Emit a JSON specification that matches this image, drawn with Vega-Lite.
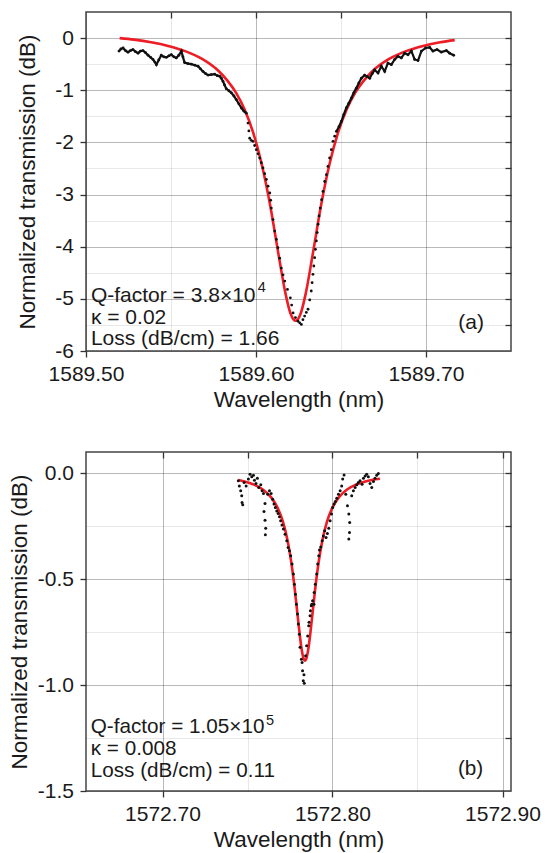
{
  "$schema": "https://vega.github.io/schema/vega-lite/v6.json",
  "padding": {"left": 7, "top": 10, "right": 5, "bottom": 0},
  "background": "white",
  "bounds": "flush",
  "spacing": 101,
  "config": {
    "font": "Liberation Sans",
    "view": {"stroke": "#444", "strokeWidth": 1.5},
    "axis": {
      "labelFont": "Liberation Sans",
      "labelFontSize": 21,
      "labelColor": "#1a1a1a",
      "labelFlush": false,
      "labelOverlap": false,
      "titleFont": "Liberation Sans",
      "titleFontSize": 22.5,
      "titleFontWeight": "normal",
      "titleColor": "#1a1a1a",
      "tickColor": "#333",
      "tickWidth": 1.3,
      "domain": false,
      "gridColor": "#000",
      "gridWidth": 1
    },
    "text": {"font": "Liberation Sans"}
  },
  "datasets": {
    "fitA": [
      {"wl": 1589.5198, "dB": 0.0}, {"wl": 1589.5283, "dB": -0.03}, {"wl": 1589.5383, "dB": -0.08},
      {"wl": 1589.5483, "dB": -0.15}, {"wl": 1589.5583, "dB": -0.25}, {"wl": 1589.5683, "dB": -0.40},
      {"wl": 1589.5783, "dB": -0.64}, {"wl": 1589.5833, "dB": -0.82}, {"wl": 1589.5883, "dB": -1.05},
      {"wl": 1589.5933, "dB": -1.37}, {"wl": 1589.5983, "dB": -1.81}, {"wl": 1589.6033, "dB": -2.41},
      {"wl": 1589.6083, "dB": -3.20}, {"wl": 1589.6133, "dB": -4.16}, {"wl": 1589.6173, "dB": -4.89},
      {"wl": 1589.6203, "dB": -5.28}, {"wl": 1589.6233, "dB": -5.42}, {"wl": 1589.6263, "dB": -5.28},
      {"wl": 1589.6293, "dB": -4.89}, {"wl": 1589.6333, "dB": -4.16}, {"wl": 1589.6383, "dB": -3.20},
      {"wl": 1589.6433, "dB": -2.41}, {"wl": 1589.6483, "dB": -1.81}, {"wl": 1589.6533, "dB": -1.37},
      {"wl": 1589.6583, "dB": -1.05}, {"wl": 1589.6633, "dB": -0.82}, {"wl": 1589.6683, "dB": -0.64},
      {"wl": 1589.6783, "dB": -0.40}, {"wl": 1589.6883, "dB": -0.25}, {"wl": 1589.6983, "dB": -0.15},
      {"wl": 1589.7083, "dB": -0.08}, {"wl": 1589.7169, "dB": -0.04}
    ],
    "dataA": [
      {"wl": 1589.5194, "dB": -0.25}, {"wl": 1589.5205, "dB": -0.21}, {"wl": 1589.5218, "dB": -0.19},
      {"wl": 1589.5232, "dB": -0.24}, {"wl": 1589.5247, "dB": -0.27}, {"wl": 1589.5262, "dB": -0.24},
      {"wl": 1589.5276, "dB": -0.22}, {"wl": 1589.5291, "dB": -0.26}, {"wl": 1589.5306, "dB": -0.29},
      {"wl": 1589.5320, "dB": -0.25}, {"wl": 1589.5335, "dB": -0.24}, {"wl": 1589.5350, "dB": -0.28},
      {"wl": 1589.5365, "dB": -0.33}, {"wl": 1589.5380, "dB": -0.37}, {"wl": 1589.5394, "dB": -0.41},
      {"wl": 1589.5405, "dB": -0.46}, {"wl": 1589.5414, "dB": -0.51}, {"wl": 1589.5428, "dB": -0.42},
      {"wl": 1589.5443, "dB": -0.33}, {"wl": 1589.5458, "dB": -0.36}, {"wl": 1589.5473, "dB": -0.37},
      {"wl": 1589.5488, "dB": -0.34}, {"wl": 1589.5502, "dB": -0.32}, {"wl": 1589.5517, "dB": -0.36},
      {"wl": 1589.5531, "dB": -0.38}, {"wl": 1589.5546, "dB": -0.33}, {"wl": 1589.5561, "dB": -0.25},
      {"wl": 1589.5570, "dB": -0.36}, {"wl": 1589.5580, "dB": -0.47}, {"wl": 1589.5600, "dB": -0.49},
      {"wl": 1589.5620, "dB": -0.50}, {"wl": 1589.5640, "dB": -0.52}, {"wl": 1589.5659, "dB": -0.54},
      {"wl": 1589.5673, "dB": -0.59}, {"wl": 1589.5688, "dB": -0.64}, {"wl": 1589.5703, "dB": -0.68},
      {"wl": 1589.5718, "dB": -0.71}, {"wl": 1589.5737, "dB": -0.70}, {"wl": 1589.5757, "dB": -0.69},
      {"wl": 1589.5772, "dB": -0.72}, {"wl": 1589.5786, "dB": -0.73}, {"wl": 1589.5796, "dB": -0.77},
      {"wl": 1589.5806, "dB": -0.83}, {"wl": 1589.5815, "dB": -0.90}, {"wl": 1589.5825, "dB": -0.97},
      {"wl": 1589.5840, "dB": -1.01}, {"wl": 1589.5855, "dB": -1.05}, {"wl": 1589.5870, "dB": -1.11},
      {"wl": 1589.5884, "dB": -1.18}, {"wl": 1589.5899, "dB": -1.26}, {"wl": 1589.5914, "dB": -1.34},
      {"wl": 1589.5928, "dB": -1.40}, {"wl": 1589.5943, "dB": -1.44},
      {"wl": 1589.5953, "dB": -1.63}, {"wl": 1589.5958, "dB": -1.78}, {"wl": 1589.5963, "dB": -1.92},
      {"wl": 1589.5972, "dB": -1.96}, {"wl": 1589.5982, "dB": -1.98}, {"wl": 1589.5992, "dB": -2.06},
      {"wl": 1589.6002, "dB": -2.14}, {"wl": 1589.6012, "dB": -2.22}, {"wl": 1589.6022, "dB": -2.30},
      {"wl": 1589.6031, "dB": -2.39}, {"wl": 1589.6041, "dB": -2.49}, {"wl": 1589.6051, "dB": -2.60},
      {"wl": 1589.6061, "dB": -2.71}, {"wl": 1589.6071, "dB": -2.84}, {"wl": 1589.6081, "dB": -2.97},
      {"wl": 1589.6086, "dB": -3.11}, {"wl": 1589.6090, "dB": -3.26}, {"wl": 1589.6100, "dB": -3.48},
      {"wl": 1589.6110, "dB": -3.70}, {"wl": 1589.6120, "dB": -3.86}, {"wl": 1589.6129, "dB": -4.02},
      {"wl": 1589.6139, "dB": -4.22}, {"wl": 1589.6149, "dB": -4.41}, {"wl": 1589.6159, "dB": -4.54},
      {"wl": 1589.6169, "dB": -4.66}, {"wl": 1589.6185, "dB": -4.82}, {"wl": 1589.6202, "dB": -4.98},
      {"wl": 1589.6210, "dB": -5.12}, {"wl": 1589.6218, "dB": -5.27}, {"wl": 1589.6232, "dB": -5.36},
      {"wl": 1589.6247, "dB": -5.43}, {"wl": 1589.6257, "dB": -5.46}, {"wl": 1589.6267, "dB": -5.49},
      {"wl": 1589.6276, "dB": -5.40}, {"wl": 1589.6286, "dB": -5.33}, {"wl": 1589.6296, "dB": -5.26},
      {"wl": 1589.6306, "dB": -5.20}, {"wl": 1589.6316, "dB": -5.02}, {"wl": 1589.6325, "dB": -4.85},
      {"wl": 1589.6330, "dB": -4.69}, {"wl": 1589.6335, "dB": -4.53}, {"wl": 1589.6340, "dB": -4.37},
      {"wl": 1589.6345, "dB": -4.21}, {"wl": 1589.6350, "dB": -4.05}, {"wl": 1589.6355, "dB": -3.89},
      {"wl": 1589.6360, "dB": -3.73}, {"wl": 1589.6365, "dB": -3.57}, {"wl": 1589.6371, "dB": -3.41},
      {"wl": 1589.6378, "dB": -3.26}, {"wl": 1589.6386, "dB": -3.10}, {"wl": 1589.6394, "dB": -2.94},
      {"wl": 1589.6404, "dB": -2.75}, {"wl": 1589.6414, "dB": -2.62}, {"wl": 1589.6423, "dB": -2.46},
      {"wl": 1589.6433, "dB": -2.30}, {"wl": 1589.6443, "dB": -2.14}, {"wl": 1589.6453, "dB": -1.98},
      {"wl": 1589.6463, "dB": -1.88}, {"wl": 1589.6473, "dB": -1.79},
      {"wl": 1589.6488, "dB": -1.70}, {"wl": 1589.6502, "dB": -1.60}, {"wl": 1589.6516, "dB": -1.47},
      {"wl": 1589.6531, "dB": -1.34}, {"wl": 1589.6546, "dB": -1.25}, {"wl": 1589.6561, "dB": -1.15},
      {"wl": 1589.6575, "dB": -1.05}, {"wl": 1589.6590, "dB": -0.96}, {"wl": 1589.6605, "dB": -0.86},
      {"wl": 1589.6620, "dB": -0.77}, {"wl": 1589.6639, "dB": -0.71}, {"wl": 1589.6654, "dB": -0.74},
      {"wl": 1589.6669, "dB": -0.77}, {"wl": 1589.6684, "dB": -0.68}, {"wl": 1589.6698, "dB": -0.61},
      {"wl": 1589.6718, "dB": -0.67}, {"wl": 1589.6737, "dB": -0.54}, {"wl": 1589.6757, "dB": -0.64},
      {"wl": 1589.6776, "dB": -0.48}, {"wl": 1589.6796, "dB": -0.51}, {"wl": 1589.6816, "dB": -0.41},
      {"wl": 1589.6835, "dB": -0.35}, {"wl": 1589.6855, "dB": -0.38}, {"wl": 1589.6875, "dB": -0.29},
      {"wl": 1589.6894, "dB": -0.32}, {"wl": 1589.6914, "dB": -0.25}, {"wl": 1589.6933, "dB": -0.41},
      {"wl": 1589.6953, "dB": -0.43}, {"wl": 1589.6973, "dB": -0.25}, {"wl": 1589.6998, "dB": -0.19},
      {"wl": 1589.7022, "dB": -0.18}, {"wl": 1589.7041, "dB": -0.25}, {"wl": 1589.7065, "dB": -0.22},
      {"wl": 1589.7090, "dB": -0.27}, {"wl": 1589.7120, "dB": -0.24}, {"wl": 1589.7139, "dB": -0.29},
      {"wl": 1589.7163, "dB": -0.33}
    ],
    "noteA": [
      {"wl": 1589.5029, "dB": -4.955, "label": "Q-factor = 3.8×10"},
      {"wl": 1589.5029, "dB": -5.36, "label": "κ = 0.02"},
      {"wl": 1589.5029, "dB": -5.765, "label": "Loss (dB/cm) = 1.66"},
      {"wl": 1589.7190, "dB": -5.47, "label": "(a)"}
    ],
    "supA": [
      {"wl": 1589.6010, "dB": -4.80, "label": "4"}
    ],
    "fitB": [
      {"wl": 1572.7446, "dB": -0.0325}, {"wl": 1572.7488, "dB": -0.0404}, {"wl": 1572.7538, "dB": -0.054},
      {"wl": 1572.7588, "dB": -0.0758}, {"wl": 1572.7638, "dB": -0.113}, {"wl": 1572.7678, "dB": -0.165},
      {"wl": 1572.7708, "dB": -0.228}, {"wl": 1572.7738, "dB": -0.327}, {"wl": 1572.7758, "dB": -0.423},
      {"wl": 1572.7778, "dB": -0.548}, {"wl": 1572.7798, "dB": -0.695}, {"wl": 1572.7818, "dB": -0.829},
      {"wl": 1572.7828, "dB": -0.870}, {"wl": 1572.7838, "dB": -0.885}, {"wl": 1572.7848, "dB": -0.870},
      {"wl": 1572.7858, "dB": -0.829}, {"wl": 1572.7878, "dB": -0.695}, {"wl": 1572.7898, "dB": -0.548},
      {"wl": 1572.7918, "dB": -0.423}, {"wl": 1572.7938, "dB": -0.327}, {"wl": 1572.7968, "dB": -0.228},
      {"wl": 1572.7998, "dB": -0.165}, {"wl": 1572.8038, "dB": -0.113}, {"wl": 1572.8088, "dB": -0.0758},
      {"wl": 1572.8138, "dB": -0.054}, {"wl": 1572.8188, "dB": -0.0404}, {"wl": 1572.8238, "dB": -0.0312},
      {"wl": 1572.8279, "dB": -0.0259}
    ],
    "dataB": [
      {"wl": 1572.7446, "dB": -0.036}, {"wl": 1572.7452, "dB": -0.060}, {"wl": 1572.7460, "dB": -0.083},
      {"wl": 1572.7466, "dB": -0.107}, {"wl": 1572.7468, "dB": -0.138}, {"wl": 1572.7472, "dB": -0.149},
      {"wl": 1572.7480, "dB": -0.044}, {"wl": 1572.7492, "dB": -0.060}, {"wl": 1572.7505, "dB": -0.028},
      {"wl": 1572.7515, "dB": -0.005}, {"wl": 1572.7525, "dB": -0.017}, {"wl": 1572.7535, "dB": -0.010},
      {"wl": 1572.7541, "dB": -0.033}, {"wl": 1572.7550, "dB": -0.049}, {"wl": 1572.7558, "dB": -0.024},
      {"wl": 1572.7566, "dB": -0.068}, {"wl": 1572.7578, "dB": -0.055}, {"wl": 1572.7586, "dB": -0.083},
      {"wl": 1572.7594, "dB": -0.096}, {"wl": 1572.7603, "dB": -0.143}, {"wl": 1572.7597, "dB": -0.181},
      {"wl": 1572.7603, "dB": -0.222}, {"wl": 1572.7607, "dB": -0.260}, {"wl": 1572.7605, "dB": -0.291},
      {"wl": 1572.7619, "dB": -0.099}, {"wl": 1572.7629, "dB": -0.083}, {"wl": 1572.7639, "dB": -0.096},
      {"wl": 1572.7648, "dB": -0.123}, {"wl": 1572.7656, "dB": -0.146}, {"wl": 1572.7664, "dB": -0.162},
      {"wl": 1572.7672, "dB": -0.178}, {"wl": 1572.7680, "dB": -0.190}, {"wl": 1572.7688, "dB": -0.206},
      {"wl": 1572.7695, "dB": -0.225}, {"wl": 1572.7703, "dB": -0.244}, {"wl": 1572.7711, "dB": -0.264},
      {"wl": 1572.7721, "dB": -0.288}, {"wl": 1572.7731, "dB": -0.319}, {"wl": 1572.7739, "dB": -0.351},
      {"wl": 1572.7747, "dB": -0.366}, {"wl": 1572.7754, "dB": -0.390}, {"wl": 1572.7762, "dB": -0.429},
      {"wl": 1572.7770, "dB": -0.476}, {"wl": 1572.7776, "dB": -0.524}, {"wl": 1572.7782, "dB": -0.571},
      {"wl": 1572.7788, "dB": -0.618}, {"wl": 1572.7794, "dB": -0.665}, {"wl": 1572.7799, "dB": -0.712},
      {"wl": 1572.7805, "dB": -0.760}, {"wl": 1572.7809, "dB": -0.822}, {"wl": 1572.7817, "dB": -0.878},
      {"wl": 1572.7821, "dB": -0.893}, {"wl": 1572.7824, "dB": -0.933}, {"wl": 1572.7832, "dB": -0.951},
      {"wl": 1572.7828, "dB": -0.980}, {"wl": 1572.7834, "dB": -0.992}, {"wl": 1572.7842, "dB": -0.862},
      {"wl": 1572.7848, "dB": -0.815}, {"wl": 1572.7854, "dB": -0.768}, {"wl": 1572.7860, "dB": -0.720},
      {"wl": 1572.7868, "dB": -0.673}, {"wl": 1572.7875, "dB": -0.626}, {"wl": 1572.7883, "dB": -0.602},
      {"wl": 1572.7891, "dB": -0.618}, {"wl": 1572.7862, "dB": -0.704}, {"wl": 1572.7870, "dB": -0.649},
      {"wl": 1572.7878, "dB": -0.618}, {"wl": 1572.7892, "dB": -0.563}, {"wl": 1572.7899, "dB": -0.524},
      {"wl": 1572.7907, "dB": -0.476}, {"wl": 1572.7913, "dB": -0.429}, {"wl": 1572.7919, "dB": -0.390},
      {"wl": 1572.7923, "dB": -0.363}, {"wl": 1572.7931, "dB": -0.348}, {"wl": 1572.7939, "dB": -0.319},
      {"wl": 1572.7946, "dB": -0.296}, {"wl": 1572.7954, "dB": -0.272}, {"wl": 1572.7962, "dB": -0.304},
      {"wl": 1572.7970, "dB": -0.285}, {"wl": 1572.7978, "dB": -0.260}, {"wl": 1572.7986, "dB": -0.225},
      {"wl": 1572.7994, "dB": -0.193}, {"wl": 1572.8001, "dB": -0.162}, {"wl": 1572.8009, "dB": -0.146},
      {"wl": 1572.8017, "dB": -0.134}, {"wl": 1572.8025, "dB": -0.118}, {"wl": 1572.8035, "dB": -0.099},
      {"wl": 1572.8045, "dB": -0.083}, {"wl": 1572.8054, "dB": -0.060}, {"wl": 1572.8060, "dB": -0.028},
      {"wl": 1572.8068, "dB": -0.008}, {"wl": 1572.8078, "dB": -0.099}, {"wl": 1572.8088, "dB": -0.154},
      {"wl": 1572.8096, "dB": -0.193}, {"wl": 1572.8101, "dB": -0.233}, {"wl": 1572.8100, "dB": -0.280},
      {"wl": 1572.8096, "dB": -0.311}, {"wl": 1572.8113, "dB": -0.107}, {"wl": 1572.8123, "dB": -0.083},
      {"wl": 1572.8133, "dB": -0.068}, {"wl": 1572.8143, "dB": -0.055}, {"wl": 1572.8152, "dB": -0.044},
      {"wl": 1572.8162, "dB": -0.036}, {"wl": 1572.8174, "dB": -0.052}, {"wl": 1572.8182, "dB": -0.024},
      {"wl": 1572.8192, "dB": -0.013}, {"wl": 1572.8201, "dB": -0.005}, {"wl": 1572.8211, "dB": -0.017},
      {"wl": 1572.8221, "dB": -0.049}, {"wl": 1572.8231, "dB": -0.068}, {"wl": 1572.8241, "dB": -0.039},
      {"wl": 1572.8250, "dB": -0.024}, {"wl": 1572.8260, "dB": -0.010}, {"wl": 1572.8270, "dB": -0.002}
    ],
    "noteB": [
      {"wl": 1572.6578, "dB": -1.200, "label": "Q-factor = 1.05×10"},
      {"wl": 1572.6578, "dB": -1.302, "label": "κ = 0.008"},
      {"wl": 1572.6578, "dB": -1.404, "label": "Loss (dB/cm) = 0.11"},
      {"wl": 1572.8738, "dB": -1.398, "label": "(b)"}
    ],
    "supB": [
      {"wl": 1572.7609, "dB": -1.169, "label": "5"}
    ]
  },
  "vconcat": [
    {
      "width": 425,
      "height": 339,
      "resolve": {"axis": {"x": "independent", "y": "independent"}},
      "layer": [
        {
          "data": {"name": "fitA"},
          "mark": {"type": "line", "color": "#ee1c25", "strokeWidth": 2.6, "interpolate": "monotone"},
          "encoding": {
            "x": {"field": "wl", "type": "quantitative", "scale": {"domain": [1589.5, 1589.75], "nice": false, "zero": false},
                  "axis": {"orient": "top", "values": [1589.55, 1589.6, 1589.65, 1589.7], "labels": false, "title": null, "tickSize": -6, "grid": true, "gridOpacity": 0.09}},
            "y": {"field": "dB", "type": "quantitative", "scale": {"domain": [-6, 0.5], "nice": false, "zero": false},
                  "axis": {"orient": "right", "values": [-5.5, -5, -4.5, -4, -3.5, -3, -2.5, -2, -1.5, -1, -0.5, 0], "labels": false, "title": null, "tickSize": -6, "grid": true, "gridOpacity": 0.09}}
          }
        },
        {
          "data": {"name": "dataA"},
          "transform": [{"filter": "datum.wl <= 1589.5944"}],
          "mark": {"type": "line", "color": "#111", "strokeWidth": 2.2},
          "encoding": {
            "x": {"field": "wl", "type": "quantitative", "scale": {"domain": [1589.5, 1589.75], "nice": false, "zero": false},
                  "axis": {"orient": "bottom", "values": [1589.5, 1589.6, 1589.7], "labelExpr": "format(datum.value, '.2f')", "title": "Wavelength (nm)", "tickSize": 6, "labelPadding": 6.5, "titlePadding": 4, "grid": true, "gridOpacity": 0.2}},
            "y": {"field": "dB", "type": "quantitative", "scale": {"domain": [-6, 0.5], "nice": false, "zero": false},
                  "axis": {"orient": "left", "values": [-6, -5, -4, -3, -2, -1, 0], "labelExpr": "(datum.value < 0 ? '-' : '') + format(abs(datum.value), 'd')", "title": "Normalized transmission (dB)", "tickSize": 6, "labelPadding": 6.5, "minExtent": 31, "maxExtent": 31, "titlePadding": 16, "grid": true, "gridOpacity": 0.2}}
          }
        },
        {
          "data": {"name": "dataA"},
          "transform": [{"filter": "datum.wl >= 1589.6472"}],
          "mark": {"type": "line", "color": "#111", "strokeWidth": 2.2},
          "encoding": {
            "x": {"field": "wl", "type": "quantitative", "scale": {"domain": [1589.5, 1589.75], "nice": false, "zero": false}, "axis": null},
            "y": {"field": "dB", "type": "quantitative", "scale": {"domain": [-6, 0.5], "nice": false, "zero": false}, "axis": null}
          }
        },
        {
          "data": {"name": "dataA"},
          "mark": {"type": "circle", "color": "#111", "size": 8, "opacity": 1},
          "encoding": {
            "x": {"field": "wl", "type": "quantitative", "scale": {"domain": [1589.5, 1589.75], "nice": false, "zero": false}, "axis": null},
            "y": {"field": "dB", "type": "quantitative", "scale": {"domain": [-6, 0.5], "nice": false, "zero": false}, "axis": null}
          }
        },
        {
          "data": {"name": "noteA"},
          "mark": {"type": "text", "align": "left", "baseline": "middle", "fontSize": 21, "color": "#1a1a1a"},
          "encoding": {
            "x": {"field": "wl", "type": "quantitative", "scale": {"domain": [1589.5, 1589.75], "nice": false, "zero": false}, "axis": null},
            "y": {"field": "dB", "type": "quantitative", "scale": {"domain": [-6, 0.5], "nice": false, "zero": false}, "axis": null},
            "text": {"field": "label"}
          }
        },
        {
          "data": {"name": "supA"},
          "mark": {"type": "text", "align": "left", "baseline": "middle", "fontSize": 14.5, "color": "#1a1a1a"},
          "encoding": {
            "x": {"field": "wl", "type": "quantitative", "scale": {"domain": [1589.5, 1589.75], "nice": false, "zero": false}, "axis": null},
            "y": {"field": "dB", "type": "quantitative", "scale": {"domain": [-6, 0.5], "nice": false, "zero": false}, "axis": null},
            "text": {"field": "label"}
          }
        }
      ]
    },
    {
      "width": 425,
      "height": 339,
      "resolve": {"axis": {"x": "independent", "y": "independent"}},
      "layer": [
        {
          "data": {"name": "fitB"},
          "mark": {"type": "line", "color": "#ee1c25", "strokeWidth": 2.6, "interpolate": "monotone"},
          "encoding": {
            "x": {"field": "wl", "type": "quantitative", "scale": {"domain": [1572.655, 1572.905], "nice": false, "zero": false},
                  "axis": {"orient": "top", "values": [1572.7, 1572.75, 1572.8, 1572.85, 1572.9], "labels": false, "title": null, "tickSize": -6, "grid": true, "gridOpacity": 0.09}},
            "y": {"field": "dB", "type": "quantitative", "scale": {"domain": [-1.5, 0.1], "nice": false, "zero": false},
                  "axis": {"orient": "right", "values": [-1.25, -1, -0.75, -0.5, -0.25, 0], "labels": false, "title": null, "tickSize": -6, "grid": true, "gridOpacity": 0.09}}
          }
        },
        {
          "data": {"name": "dataB"},
          "mark": {"type": "circle", "color": "#111", "size": 9, "opacity": 1},
          "encoding": {
            "x": {"field": "wl", "type": "quantitative", "scale": {"domain": [1572.655, 1572.905], "nice": false, "zero": false},
                  "axis": {"orient": "bottom", "values": [1572.7, 1572.8, 1572.9], "labelExpr": "format(datum.value, '.2f')", "title": "Wavelength (nm)", "tickSize": 6, "labelPadding": 6.5, "titlePadding": 4, "grid": true, "gridOpacity": 0.2}},
            "y": {"field": "dB", "type": "quantitative", "scale": {"domain": [-1.5, 0.1], "nice": false, "zero": false},
                  "axis": {"orient": "left", "values": [-1.5, -1, -0.5, 0], "labelExpr": "(datum.value < 0 ? '-' : '') + format(abs(datum.value), '.1f')", "title": "Normalized transmission (dB)", "tickSize": 6, "labelPadding": 6.5, "minExtent": 49, "maxExtent": 49, "titlePadding": 5.5, "grid": true, "gridOpacity": 0.2}}
          }
        },
        {
          "data": {"name": "noteB"},
          "mark": {"type": "text", "align": "left", "baseline": "middle", "fontSize": 20.7, "color": "#1a1a1a"},
          "encoding": {
            "x": {"field": "wl", "type": "quantitative", "scale": {"domain": [1572.655, 1572.905], "nice": false, "zero": false}, "axis": null},
            "y": {"field": "dB", "type": "quantitative", "scale": {"domain": [-1.5, 0.1], "nice": false, "zero": false}, "axis": null},
            "text": {"field": "label"}
          }
        },
        {
          "data": {"name": "supB"},
          "mark": {"type": "text", "align": "left", "baseline": "middle", "fontSize": 14.5, "color": "#1a1a1a"},
          "encoding": {
            "x": {"field": "wl", "type": "quantitative", "scale": {"domain": [1572.655, 1572.905], "nice": false, "zero": false}, "axis": null},
            "y": {"field": "dB", "type": "quantitative", "scale": {"domain": [-1.5, 0.1], "nice": false, "zero": false}, "axis": null},
            "text": {"field": "label"}
          }
        }
      ]
    }
  ]
}
